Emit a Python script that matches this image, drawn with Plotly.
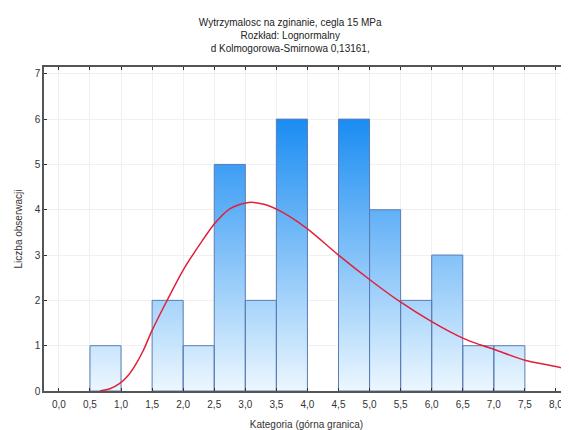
import plotly.graph_objects as go

# histogram: upper bound of each class and number of observations
gorna_granica = [1.0, 1.5, 2.0, 2.5, 3.0, 3.5, 4.0, 4.5, 5.0, 5.5, 6.0, 6.5, 7.0, 7.5]
liczebnosc = [1, 0, 2, 1, 5, 2, 6, 0, 6, 4, 2, 3, 1, 1]
szer = 0.5

# fitted lognormal curve
krzywa_x = [0.66, 0.82, 0.98, 1.10, 1.22, 1.36, 1.49, 1.73, 2.0, 2.27, 2.51, 2.75, 3.05,
            3.30, 3.55, 3.99, 4.50, 5.01, 5.49, 6.0, 6.51, 6.78, 7.02, 7.5, 8.0, 8.25]
krzywa_y = [0.0, 0.05, 0.17, 0.32, 0.55, 0.90, 1.31, 1.97, 2.67, 3.24, 3.70, 4.02, 4.16,
            4.12, 3.98, 3.59, 3.00, 2.45, 1.97, 1.53, 1.16, 1.02, 0.91, 0.68, 0.54, 0.45]

tick_x = [i * 0.5 for i in range(17)]
tick_y = list(range(8))

# bars as closed polygons so that one vertical gradient covers all of them
bx, by = [], []
for g, n in zip(gorna_granica, liczebnosc):
    if n == 0:
        continue
    d = g - szer
    bx += [d, d, g, g, d, None]
    by += [0, n, n, 0, 0, None]

fig = go.Figure()
fig.add_trace(go.Scatter(
    x=bx, y=by, mode='lines', fill='toself',
    line=dict(color='#5a7db5', width=1),
    fillgradient=dict(type='vertical', start=0, stop=6,
                      colorscale=[[0, '#ecf7ff'], [1, '#1a8cf2']]),
    hoverinfo='skip', showlegend=False))
fig.add_trace(go.Scatter(
    x=krzywa_x, y=krzywa_y, mode='lines', line_shape='spline',
    line=dict(color='#e0203a', width=1.5, smoothing=0.8), showlegend=False))

# page body adds 8px, so the figure is a bit smaller than the window
fig.update_layout(
    width=561, height=422,
    margin=dict(l=36, r=0, t=59, b=39),
    paper_bgcolor='white', plot_bgcolor='white',
    separators=',.',
    font=dict(family='Liberation Sans, Arial', size=10, color='#333333'),
    title=dict(text='Wytrzymalosc na zginanie, cegla 15 MPa<br>Rozkład: Lognormalny<br>'
                    'd Kolmogorowa-Smirnowa 0,13161,',
               x=0.503, xanchor='center', y=0.958, yanchor='top',
               font=dict(size=10, color='#222222')),
)
fig.update_xaxes(
    range=[-0.24, 8.21], tickvals=tick_x, tickformat='.1f', automargin=False,
    showgrid=True, gridcolor='#f0f0f0', gridwidth=1, zeroline=False,
    showline=True, linecolor='#555555', linewidth=1.5, mirror='ticks',
    ticks='inside', ticklen=3, tickcolor='#333333', ticklabelstandoff=3,
    title=dict(text='Kategoria (górna granica)', standoff=16, font=dict(size=10)))
fig.update_yaxes(
    range=[0, 7.15], tickvals=tick_y, automargin=False,
    showgrid=True, gridcolor='#f0f0f0', gridwidth=1, zeroline=False,
    showline=True, linecolor='#555555', linewidth=1.5,
    ticks='inside', ticklen=3, tickcolor='#333333',
    title=dict(text='Liczba obserwacji', standoff=10, font=dict(size=10)))

fig.write_html('out.html')
